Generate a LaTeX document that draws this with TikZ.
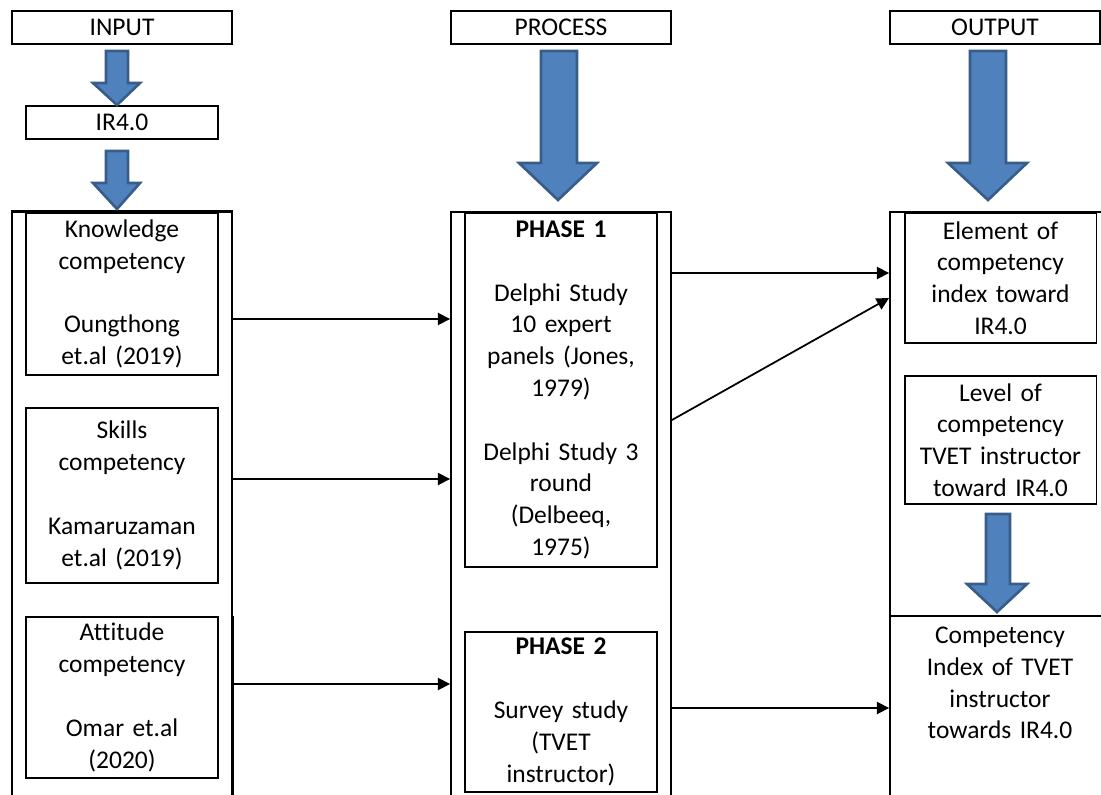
\documentclass[tikz,border=0pt]{standalone}
\usepackage{fontspec}
\setmainfont{Carlito}[Ligatures=NoCommon, WordSpace=0.9]
\usetikzlibrary{arrows.meta}
\definecolor{arrowfill}{RGB}{79,129,189}
\definecolor{arrowline}{RGB}{56,93,138}

\begin{document}
\begin{tikzpicture}[x=0.02cm, y=-0.02cm, >={Triangle[length=7pt,width=7pt]},
  every node/.style={font=\fontsize{14.5}{18.1}\selectfont},
  box/.style={draw, line width=1.1pt, minimum width=3.84cm, text width=3.6cm, align=center, inner sep=2pt},
  head/.style={draw, line width=1.1pt, minimum width=4.4cm, minimum height=0.66cm, inner sep=0pt},
  frame/.style={draw, line width=1.1pt, minimum height=12.36cm, inner sep=0pt},
  link/.style={->, line width=1pt},
  bigarrow/.style={fill=arrowfill, draw=arrowline, line width=1.5pt}]

\useasboundingbox (0,0) rectangle (1101,794);
\clip (0,0) rectangle (1101,794);

% column frames (open at the bottom)
\node[frame, minimum width=4.4cm, line width=0.8pt] (inframe) at (122,521) {};
\node[frame, minimum width=4.4cm] (procframe) at (561,521) {};
\node[frame, minimum width=4.6cm] (outframe) at (1005,521) {};
\draw[line width=1.1pt] (inframe.north west) -- (inframe.north east);
\draw[line width=1.1pt] (inframe.east |- 0,616) -- (inframe.south east);
\draw[line width=1.1pt] (outframe.west |- 0,616) -- (outframe.east |- 0,616);

% headings
\node[head] (input) at (122,27.5) {INPUT};
\node[head] (process) at (561,27.5) {PROCESS};
\node[head, minimum width=4.2cm] (output) at (995,27.5) {OUTPUT};
\node[box, minimum height=0.66cm, inner sep=0pt] (ir) at (122,122.5) {IR4.0};

% input column
\node[box, minimum height=3.24cm] (knowledge) at (122,294) {Knowledge\\competency\\[18.1pt]Oungthong\\et.al (2019)};
\node[box, minimum height=3.5cm] (skills) at (122,495.5) {Skills\\competency\\[18.1pt]Kamaruzaman\\et.al (2019)};
\node[box, minimum height=3.22cm] (attitude) at (122,697.5) {Attitude\\competency\\[18.1pt]Omar et.al\\(2020)};

% process column
\node[box, minimum height=7.08cm] (phaseone) at (561,390) {\textbf{PHASE 1}\\[18.1pt]Delphi Study\\10 expert\\panels (Jones,\\1979)\\[18.1pt]Delphi Study 3\\round\\(Delbeeq,\\1975)};
\node[box, minimum height=3.2cm] (phasetwo) at (561,712) {\textbf{PHASE 2}\\[18.1pt]Survey study\\(TVET\\instructor)};

% output column
\node[box, minimum height=2.6cm] (element) at (1000.5,278) {Element of\\competency\\index toward\\IR4.0};
\node[box, minimum height=2.56cm] (level) at (1000.5,440) {Level of\\competency\\TVET instructor\\toward IR4.0};
\node[text width=3.6cm, align=center] (index) at (1000,683) {Competency\\Index of TVET\\instructor\\towards IR4.0};

% block arrows
\draw[bigarrow] (106,51) -- (128,51) -- (128,83) -- (140,83) -- (117,105) -- (93,83) -- (106,83) -- cycle;
\draw[bigarrow] (106,151) -- (128,151) -- (128,183) -- (140,183) -- (117,209) -- (93,183) -- (106,183) -- cycle;
\draw[bigarrow] (541,51) -- (577,51) -- (577,163) -- (597,163) -- (558,200) -- (519,163) -- (541,163) -- cycle;
\draw[bigarrow] (970,51) -- (1006,51) -- (1006,163) -- (1027,163) -- (988,200) -- (948,163) -- (970,163) -- cycle;
\draw[bigarrow] (986,514) -- (1010,514) -- (1010,584) -- (1027,584) -- (997,612) -- (967,584) -- (986,584) -- cycle;

% links
\draw[link] (inframe.east |- 0,319) -- (procframe.west |- 0,319);
\draw[link] (inframe.east |- 0,479) -- (procframe.west |- 0,479);
\draw[link] (inframe.east |- 0,684) -- (procframe.west |- 0,684);
\draw[link] (procframe.east |- 0,273) -- (outframe.west |- 0,273);
\draw[link] (procframe.east |- 0,420) -- (outframe.west |- 0,298);
\draw[link] (procframe.east |- 0,708) -- (outframe.west |- 0,708);

\end{tikzpicture}
\end{document}
